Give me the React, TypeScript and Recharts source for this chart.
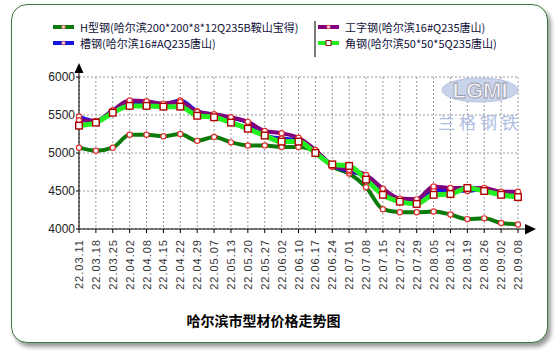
import { LineChart, Line, XAxis, YAxis, CartesianGrid } from "recharts"

const dates = [
  "22.03.11", "22.03.18", "22.03.25", "22.04.02", "22.04.08", "22.04.15", "22.04.22",
  "22.04.29", "22.05.07", "22.05.13", "22.05.20", "22.05.27", "22.06.02", "22.06.10",
  "22.06.17", "22.06.24", "22.07.01", "22.07.08", "22.07.15", "22.07.22", "22.07.29",
  "22.08.05", "22.08.12", "22.08.19", "22.08.26", "22.09.02", "22.09.08",
]

// H型钢
const hBeam = [
  5070, 5030, 5070, 5240, 5240, 5220, 5250, 5160, 5210, 5140, 5100, 5100, 5080, 5080,
  5020, 4820, 4730, 4550, 4260, 4220, 4220, 4230, 4190, 4130, 4140, 4080, 4060,
]
// 槽钢
const channel = [
  5480, 5420, 5560, 5670, 5670, 5640, 5690, 5550, 5500, 5460, 5400, 5230, 5190, 5170,
  5020, 4840, 4760, 4700, 4520, 4380, 4370, 4510, 4510, 4500, 4530, 4470, 4470,
]
// 工字钢
const iBeam = [
  5430, 5420, 5560, 5690, 5680, 5650, 5670, 5540, 5510, 5470, 5410, 5290, 5260, 5200,
  5040, 4840, 4780, 4710, 4530, 4400, 4390, 4560, 4540, 4540, 4540, 4490, 4490,
]
// 角钢
const angle = [
  5360, 5400, 5530, 5620, 5620, 5610, 5610, 5490, 5470, 5400, 5320, 5230, 5150, 5150,
  5000, 4850, 4830, 4650, 4450, 4360, 4330, 4450, 4460, 4540, 4500, 4450, 4420,
]

const yTicks = [4000, 4500, 5000, 5500, 6000]

const data = dates.map((d, i) => ({
  date: d,
  h: hBeam[i],
  ch: channel[i],
  ib: iBeam[i],
  ang: angle[i],
}))

const font = "'Liberation Sans', Arial, sans-serif"
const cjk = "'Noto Sans CJK SC', 'Liberation Sans', sans-serif"

const CircleDot = (props: any) => {
  const { cx, cy, index } = props
  if (cx == null || cy == null) return null
  return <circle key={index} cx={cx} cy={cy} r={2.6} fill="#fff" stroke="#e03030" strokeWidth={1.2} />
}

const SquareDot = (props: any) => {
  const { cx, cy, index } = props
  if (cx == null || cy == null) return null
  return <rect key={index} x={cx - 3.3} y={cy - 3.3} width={6.6} height={6.6} fill="#fff" stroke="#b00000" strokeWidth={1.4} />
}

const DateTick = (props: any) => {
  const { x, y, payload } = props
  return (
    <text
      transform={`translate(${x + 4},${y + 4}) rotate(-90)`}
      textAnchor="end"
      fontSize={11}
      fontFamily={font}
      fill="#333"
      letterSpacing={1}
    >
      {payload.value}
    </text>
  )
}

const legendRows = [
  { x: 53, y: 27, color: "#0a7a0a", square: false, label: "H型钢(哈尔滨200*200*8*12Q235B鞍山宝得)" },
  { x: 53, y: 43, color: "#1515e0", square: false, label: "槽钢(哈尔滨16#AQ235唐山)" },
  { x: 318, y: 27, color: "#800080", square: false, label: "工字钢(哈尔滨16#Q235唐山)" },
  { x: 318, y: 43, color: "#22ee22", square: true, label: "角钢(哈尔滨50*50*5Q235唐山)" },
]

export default function App() {
  return (
    <div style={{ position: "absolute", left: 0, top: 0, width: 557, height: 351, background: "#fff" }}>
      <div
        style={{
          position: "absolute",
          left: 11,
          top: 4,
          width: 535,
          height: 337,
          border: "1px solid #3a7a3a",
          borderRadius: 16,
          boxShadow: "3px 4px 4px #999",
          background: "#fff",
        }}
      />
      <div style={{ position: "absolute", left: 0, top: 0 }}>
        <LineChart width={557} height={351} data={data} margin={{ top: 77, right: 39, bottom: 62, left: 0 }}>
          <CartesianGrid stroke="#999" strokeDasharray="2 2" />
          <XAxis
            dataKey="date"
            interval={0}
            height={60}
            tickSize={4}
            tick={<DateTick />}
            axisLine={{ stroke: "#000" }}
            tickLine={{ stroke: "#000" }}
          />
          <YAxis
            width={79}
            domain={[4000, 6000]}
            ticks={yTicks}
            interval={0}
            tickSize={3}
            tickMargin={1}
            tick={{ fontSize: 12, fill: "#222", fontFamily: font }}
            axisLine={{ stroke: "#000" }}
            tickLine={{ stroke: "#000" }}
          />
          <Line type="monotone" dataKey="h" stroke="#0a7a0a" strokeWidth={4} dot={<CircleDot />} isAnimationActive={false} />
          <Line type="monotone" dataKey="ch" stroke="#1515e0" strokeWidth={4} dot={<CircleDot />} isAnimationActive={false} />
          <Line type="monotone" dataKey="ib" stroke="#800080" strokeWidth={4} dot={<CircleDot />} isAnimationActive={false} />
          <Line type="monotone" dataKey="ang" stroke="#22ee22" strokeWidth={5} dot={<SquareDot />} isAnimationActive={false} />
        </LineChart>
      </div>

      <svg width={557} height={351} style={{ position: "absolute", left: 0, top: 0, pointerEvents: "none" }}>
        {/* axis arrows */}
        <line x1={79} y1={72} x2={79} y2={77} stroke="#000" />
        <polygon points="79,63 74.5,73 83.5,73" fill="#000" />
        <line x1={518} y1={229} x2={526} y2={229} stroke="#000" />
        <polygon points="536,229 525,224 525,234.5" fill="#000" />
        {/* watermark */}
        <ellipse cx={480} cy={90} rx={38} ry={12} fill="#c9d3ea" stroke="#b5c2e0" />
        <text x={480} y={98} textAnchor="middle" fontSize={22} fontWeight="bold" fontFamily={font} fill="#f4f4f8" stroke="#9a9aa8" strokeWidth={0.8}>
          LGMI
        </text>
        <text x={480} y={129} textAnchor="middle" fontSize={17} fontFamily={cjk} fill="#aebde0" letterSpacing={4}>
          兰格钢铁
        </text>
        {/* legend symbols */}
        <line x1={315} y1={21} x2={315} y2={57} stroke="#222" strokeWidth={1.2} />
        {legendRows.map((r) => (
          <g key={r.label}>
            <line x1={r.x} y1={r.y} x2={r.x + 21} y2={r.y} stroke={r.color} strokeWidth={4} />
            {r.square ? (
              <rect x={r.x + 8} y={r.y - 2.5} width={5} height={5} fill="#fff" stroke="#8a1010" strokeWidth={1} />
            ) : (
              <circle cx={r.x + 10.5} cy={r.y} r={1.8} fill="#fdd" stroke="#e05050" strokeWidth={0.8} />
            )}
          </g>
        ))}
      </svg>

      {legendRows.map((r) => (
        <div
          key={r.label}
          style={{
            position: "absolute",
            left: r.x + 27,
            top: r.y - 7,
            fontSize: 11,
            lineHeight: "14px",
            fontFamily: cjk,
            color: "#10103a",
            whiteSpace: "nowrap",
          }}
        >
          {r.label}
        </div>
      ))}

      <div
        style={{
          position: "absolute",
          left: 0,
          width: 527,
          top: 311,
          textAlign: "center",
          fontSize: 14,
          lineHeight: "18px",
          fontWeight: "bold",
          fontFamily: cjk,
          color: "#000",
        }}
      >
        哈尔滨市型材价格走势图
      </div>
    </div>
  )
}
